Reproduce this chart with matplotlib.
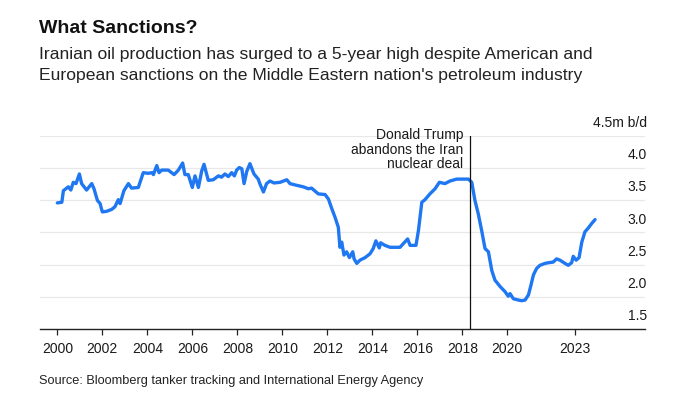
import numpy as np
import matplotlib
matplotlib.use("Agg")
import matplotlib.pyplot as plt
import matplotlib.transforms as mtransforms

plt.rcParams["font.family"] = ["Liberation Sans", "DejaVu Sans"]

# ── data (decimal years / million b/d) ──────────────────────────────────────
years = [
    2000.00, 2000.20, 2000.27, 2000.42, 2000.49, 2000.60, 2000.71, 2000.83, 2000.98,
    2001.08, 2001.30, 2001.53, 2001.63, 2001.78, 2001.90, 2002.00, 2002.20, 2002.42,
    2002.56, 2002.71, 2002.79, 2002.96, 2003.16, 2003.30, 2003.60, 2003.82, 2004.04,
    2004.20, 2004.27, 2004.42, 2004.52, 2004.64, 2004.93, 2005.19, 2005.38, 2005.57,
    2005.67, 2005.82, 2006.00, 2006.12, 2006.27, 2006.42, 2006.52, 2006.71, 2006.93,
    2007.16, 2007.30, 2007.45, 2007.60, 2007.75, 2007.87, 2007.97, 2008.09, 2008.20,
    2008.30, 2008.42, 2008.56, 2008.74, 2008.93, 2009.00, 2009.16, 2009.30, 2009.45,
    2009.63, 2009.90, 2010.20, 2010.34, 2010.56, 2010.93, 2011.16, 2011.30, 2011.60,
    2011.90, 2012.05, 2012.20, 2012.34, 2012.49, 2012.56, 2012.64, 2012.74, 2012.86,
    2012.98, 2013.13, 2013.19, 2013.31, 2013.45, 2013.68, 2013.90, 2014.04, 2014.16,
    2014.31, 2014.37, 2014.56, 2014.79, 2015.23, 2015.41, 2015.57, 2015.68, 2015.94,
    2016.05, 2016.20, 2016.34, 2016.56, 2016.79, 2016.98, 2017.23, 2017.45, 2017.75,
    2018.04, 2018.27, 2018.42, 2018.56, 2018.71, 2018.86, 2019.01, 2019.16, 2019.31,
    2019.45, 2019.68, 2019.90, 2020.04, 2020.12, 2020.27, 2020.49, 2020.64, 2020.79,
    2020.94, 2021.05, 2021.16, 2021.30, 2021.45, 2021.68, 2021.82, 2022.04, 2022.19,
    2022.34, 2022.56, 2022.71, 2022.86, 2022.93, 2023.06, 2023.19, 2023.31, 2023.45,
    2023.60, 2023.75, 2023.90,
]
output = [
    3.46, 3.47, 3.65, 3.69, 3.71, 3.66, 3.78, 3.76, 3.91,
    3.76, 3.66, 3.76, 3.68, 3.50, 3.45, 3.32, 3.33, 3.36,
    3.40, 3.51, 3.45, 3.65, 3.76, 3.69, 3.70, 3.93, 3.92,
    3.93, 3.90, 4.04, 3.93, 3.97, 3.97, 3.90, 3.97, 4.08,
    3.90, 3.90, 3.70, 3.88, 3.70, 3.96, 4.06, 3.81, 3.82,
    3.88, 3.86, 3.91, 3.87, 3.93, 3.88, 3.97, 4.01, 3.99,
    3.76, 3.95, 4.07, 3.91, 3.83, 3.76, 3.63, 3.76, 3.80,
    3.77, 3.78, 3.82, 3.76, 3.74, 3.71, 3.68, 3.69, 3.60,
    3.59, 3.52, 3.37, 3.24, 3.08, 2.77, 2.85, 2.65, 2.70,
    2.61, 2.70, 2.59, 2.52, 2.57, 2.61, 2.67, 2.75, 2.87,
    2.76, 2.84, 2.80, 2.77, 2.77, 2.84, 2.90, 2.80, 2.80,
    3.03, 3.47, 3.51, 3.60, 3.68, 3.78, 3.76, 3.80, 3.83,
    3.83, 3.83, 3.78, 3.50, 3.29, 3.03, 2.75, 2.70, 2.41,
    2.26, 2.16, 2.08, 2.01, 2.05, 1.97, 1.95, 1.94, 1.95,
    2.03, 2.18, 2.34, 2.44, 2.49, 2.52, 2.53, 2.54, 2.59,
    2.57, 2.52, 2.49, 2.53, 2.63, 2.57, 2.61, 2.85, 3.01,
    3.07, 3.14, 3.20,
]

x_ticks = [2000, 2002, 2004, 2006, 2008, 2010, 2012, 2014, 2016, 2018, 2020, 2023]
y_ticks = [1.5, 2.0, 2.5, 3.0, 3.5, 4.0, 4.5]
y_labels = ["1.5", "2.0", "2.5", "3.0", "3.5", "4.0", "4.5m b/d"]

deal_exit = 2018.35
deal_text = "Donald Trump\nabandons the Iran\nnuclear deal"

title = "What Sanctions?"
subtitle_1 = "Iranian oil production has surged to a 5-year high despite American and"
subtitle_2 = "European sanctions on the Middle Eastern nation's petroleum industry"
source = "Source: Bloomberg tanker tracking and International Energy Agency"

LINE_BLUE = "#1f77f2"
TEXT = "#1a1a1a"

# ── figure ───────────────────────────────────────────────────────────────────
W, H = 679, 398
fig = plt.figure(figsize=(W / 100, H / 100), dpi=100)
ax = fig.add_axes([40 / W, 1 - 329 / H, 605 / W, 193 / H])

ax.set_xlim(1999.23, 2026.12)
ax.set_ylim(1.5, 4.5)

for v in y_ticks[1:]:
    ax.axhline(v, color="#e8e8e8", linewidth=0.9, zorder=0)

ax.plot(years, output, color=LINE_BLUE, linewidth=2.4, solid_joinstyle="round",
        solid_capstyle="round", zorder=3)

ax.axvline(deal_exit, color="#111111", linewidth=0.9, zorder=4)
ax.annotate(deal_text, xy=(deal_exit, 4.5), xytext=(-7, 8),
            textcoords="offset pixels", ha="right", va="top",
            fontsize=10, color=TEXT, linespacing=1.05)

for s in ["top", "right", "left"]:
    ax.spines[s].set_visible(False)
ax.spines["bottom"].set_color("#222222")
ax.spines["bottom"].set_linewidth(1.0)

ax.set_xticks(x_ticks)
ax.set_xticklabels([str(t) for t in x_ticks])
ax.tick_params(axis="x", length=4, width=0.9, color="#222222", pad=5.5,
               labelsize=10, labelcolor=TEXT)
ax.set_yticks([])

# y labels sit just above their gridlines on the right
trans = mtransforms.blended_transform_factory(ax.transAxes, ax.transData)
for v, lab in zip(y_ticks, y_labels):
    ax.annotate(lab, xy=(1.0, v), xycoords=trans, xytext=(2, 9),
                textcoords="offset pixels", ha="right", va="baseline",
                fontsize=10, color=TEXT)

fig.text(39 / W, 1 - 33 / H, title, fontsize=14, fontweight="bold",
         color="#111111", va="baseline")
fig.text(39 / W, 1 - 58.5 / H, subtitle_1, fontsize=12.6, color="#222222", va="baseline")
fig.text(39 / W, 1 - 80 / H, subtitle_2, fontsize=12.6, color="#222222", va="baseline")
fig.text(39 / W, 1 - 384 / H, source, fontsize=9.2, color="#222222", va="baseline")

fig.savefig("out.png", dpi=100)
